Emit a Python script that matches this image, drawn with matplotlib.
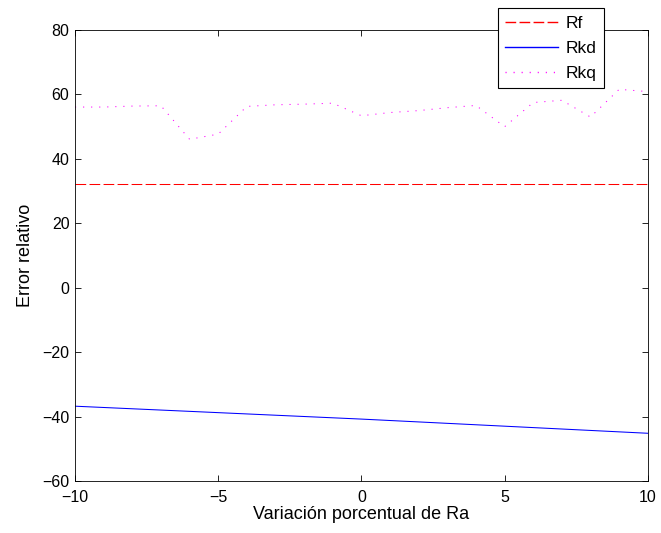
import numpy as np
import matplotlib
matplotlib.use('Agg')
import matplotlib.pyplot as plt

plt.rcParams['font.family'] = ['Liberation Sans', 'DejaVu Sans']
plt.rcParams['font.size'] = 12
plt.rcParams['lines.scale_dashes'] = False

# variacion porcentual de Ra
x = [-10, -9, -8, -7, -6, -5, -4, -3, -2, -1, 0, 1, 2, 3, 4, 5, 6, 7, 8, 9, 10]
rkq = [56.0, 56.0, 56.3, 56.4, 46.0, 47.6, 56.2, 56.7, 56.9, 57.2, 53.3,
       54.3, 54.9, 55.8, 56.5, 49.9, 57.4, 58.1, 52.9, 61.5, 60.8]
x_rf = [-10, 10]
rf = [32.1, 32.1]
x_rkd = [-10, 0, 10]
rkd = [-36.8, -40.8, -45.2]

colores = ['#ff0000', '#0000ff', '#ff00ff']

fig = plt.figure(figsize=(6.61, 5.33), dpi=100)
ax = fig.add_axes([0.1135, 0.0976, 0.8665, 0.8467])

ax.plot(x_rf, rf, color=colores[0], lw=0.75, ls=(0, (7.7, 2.4)), label='Rf')
ax.plot(x_rkd, rkd, color=colores[1], lw=0.75, label='Rkd')
ax.plot(x, rkq, color=colores[2], lw=0.75, ls=(0, (0.8, 5.0)), label='Rkq')

ax.set_xlim(-10, 10)
ax.set_ylim(-60, 80)
ax.set_xticks([-10, -5, 0, 5, 10])
ax.set_yticks(np.arange(-60, 81, 20))
ax.tick_params(direction='in', top=True, right=True, length=4, width=0.6, labelsize=11.5)
ax.tick_params(axis='x', pad=6.5)
ax.tick_params(axis='y', pad=4)
for s in ax.spines.values():
    s.set_linewidth(0.6)

ax.set_xlabel('Variación porcentual de Ra', fontsize=13, labelpad=1)
ax.set_ylabel('Error relativo', fontsize=13, labelpad=6)

leg = ax.legend(loc='upper right', bbox_to_anchor=(604/661, 1 - 8.3/533),
                bbox_transform=fig.transFigure, fancybox=False, edgecolor='black',
                framealpha=1, fontsize=12.5, handlelength=3.05, handletextpad=0.4,
                borderpad=0.45, labelspacing=0.55, borderaxespad=0)
leg.get_frame().set_linewidth(0.8)
for h, c in zip(leg.legend_handles, colores):
    h.set_color(c)
    h.set_linewidth(1.0)

fig.savefig('out.png', dpi=100)
